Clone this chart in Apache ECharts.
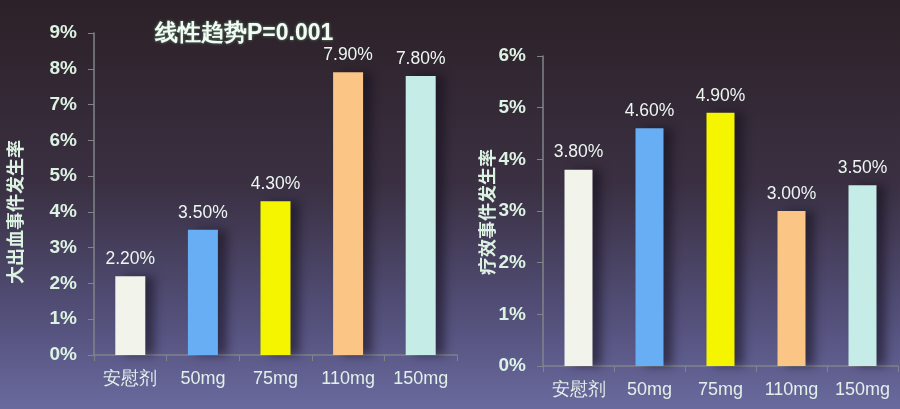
<!DOCTYPE html>
<html>
<head>
<meta charset="utf-8">
<script src="https://cdn.jsdelivr.net/npm/echarts@6/dist/echarts.min.js"></script>
<style>
  html, body { margin: 0; padding: 0; }
  #chart { width: 900px; height: 409px; }
</style>
</head>
<body>
<div id="chart"></div>
<script>
// data
const doses = ['安慰剂', '50mg', '75mg', '110mg', '150mg'];
const bleedRate = [2.2, 3.5, 4.3, 7.9, 7.8];
const effectRate = [3.8, 4.6, 4.9, 3.0, 3.5];
const barColors = ['#f2f4ec', '#68aef4', '#f6f500', '#fbc586', '#c6ece8'];

const tickColor = '#dcf2e2';
const font = 'Liberation Sans, Arial, sans-serif';

function bars(values, idx) {
  return {
    type: 'bar',
    xAxisIndex: idx,
    yAxisIndex: idx,
    barWidth: idx === 0 ? 30 : 28,
    data: values.map((v, i) => ({
      value: v,
      itemStyle: { color: barColors[i] }
    })),
    itemStyle: {
      shadowColor: 'rgba(20,15,30,0.55)',
      shadowBlur: 10,
      shadowOffsetX: 9
    },
    label: {
      show: true,
      position: 'top',
      distance: 8,
      color: '#eef6f2',
      fontSize: 17.5,
      fontFamily: font,
      formatter: p => p.value.toFixed(2) + '%'
    }
  };
}

function yAxis(idx, max) {
  return {
    type: 'value',
    gridIndex: idx,
    min: 0,
    max: max,
    interval: 1,
    splitLine: { show: false },
    axisLine: { show: true, lineStyle: { color: '#80848a', width: 1.5 } },
    axisTick: { show: true, length: 6, lineStyle: { color: '#80848a' } },
    axisLabel: {
      color: tickColor,
      fontSize: 19,
      fontWeight: 'bold',
      fontFamily: font,
      margin: 17,
      formatter: '{value}%'
    }
  };
}

function xAxis(idx) {
  return {
    type: 'category',
    gridIndex: idx,
    data: doses,
    axisLine: { lineStyle: { color: '#80848a', width: 1.5 } },
    axisTick: { show: true, length: 6, lineStyle: { color: '#80848a' } },
    axisLabel: {
      color: '#e2f0ea',
      fontSize: 18,
      fontFamily: font,
      margin: 15,
      interval: 0,
      hideOverlap: false
    }
  };
}

const chart = echarts.init(document.getElementById('chart'));
chart.setOption({
  backgroundColor: new echarts.graphic.LinearGradient(0, 0, 0, 1, [
    { offset: 0, color: '#2c2127' },
    { offset: 0.45, color: '#3a3042' },
    { offset: 0.8, color: '#55527e' },
    { offset: 1, color: '#6a6a9e' }
  ]),
  title: {
    text: '线性趋势P=0.001',
    left: 150,
    top: 17,
    textStyle: {
      color: '#f4fbf4',
      fontSize: 23,
      fontWeight: 'bold',
      fontFamily: font,
      textShadowColor: 'rgba(120,220,160,0.6)',
      textShadowBlur: 3
    }
  },
  grid: [
    { left: 94, right: 443, top: 33, bottom: 54 },
    { left: 543, right: 2, top: 56, bottom: 43 }
  ],
  xAxis: [xAxis(0), xAxis(1)],
  yAxis: [yAxis(0, 9), yAxis(1, 6)],
  graphic: [
    {
      type: 'text',
      x: 15, y: 212,
      rotation: Math.PI / 2,
      style: {
        text: '大出血事件发生率',
        fill: tickColor,
        font: 'bold 18px "Noto Sans CJK SC", sans-serif',
        align: 'center',
        verticalAlign: 'middle'
      }
    },
    {
      type: 'text',
      x: 487, y: 212,
      rotation: Math.PI / 2,
      style: {
        text: '疗效事件发生率',
        fill: tickColor,
        font: 'bold 18px "Noto Sans CJK SC", sans-serif',
        align: 'center',
        verticalAlign: 'middle'
      }
    }
  ],
  series: [bars(bleedRate, 0), bars(effectRate, 1)]
});
</script>
</body>
</html>
